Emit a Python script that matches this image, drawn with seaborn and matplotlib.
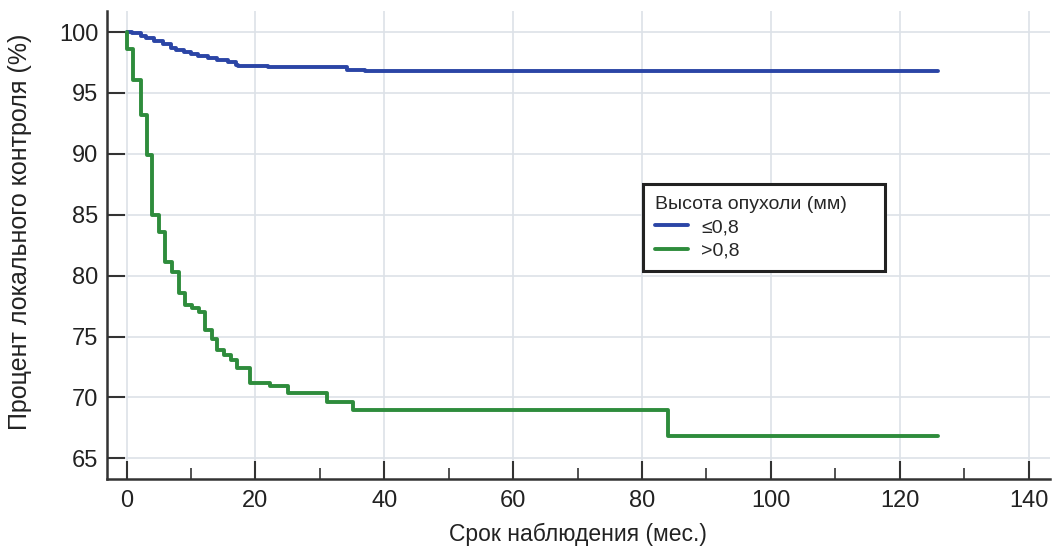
import pandas as pd
import seaborn as sns
import matplotlib.pyplot as plt
from matplotlib.ticker import MultipleLocator

# Kaplan-Meier steps
time_low = [0, 0.9, 2.2, 3.0, 4.3, 5.6, 6.9, 7.6, 8.9, 10.0, 11.0, 12.6, 14.1, 15.7, 17.0,
            17.3, 22.0, 34.2, 37.0, 126]
surv_low = [100, 99.9, 99.7, 99.55, 99.3, 99.0, 98.65, 98.5, 98.4, 98.2, 98.0, 97.9, 97.7,
            97.5, 97.3, 97.2, 97.1, 96.9, 96.8, 96.8]

time_high = [0, 0.1, 1.0, 2.2, 3.1, 4.0, 5.1, 6.0, 7.0, 8.2, 9.0, 10.2, 11.2, 12.1, 13.2,
             14.1, 15.1, 16.2, 17.1, 19.2, 22.2, 25.0, 31.1, 35.2, 84.0, 126]
surv_high = [100, 98.6, 96.1, 93.2, 89.9, 85.0, 83.6, 81.1, 80.3, 78.6, 77.6, 77.3, 77.0,
             75.5, 74.8, 73.9, 73.5, 73.1, 72.4, 71.2, 70.9, 70.4, 69.6, 69.0, 66.8, 66.8]

groups = ['≤0,8', '>0,8']
colors = ['#2b45a6', '#2e8c3c']

df = pd.concat([
    pd.DataFrame({'t': time_low, 's': surv_low, 'g': groups[0]}),
    pd.DataFrame({'t': time_high, 's': surv_high, 'g': groups[1]}),
])

sns.set_style('white')
plt.rcParams['font.family'] = ['Liberation Sans', 'DejaVu Sans']

fig = plt.figure(figsize=(10.53, 5.49), dpi=100)
ax = fig.add_axes([0.1013, 0.1275, 0.8957, 0.853])

sns.lineplot(data=df, x='t', y='s', hue='g', palette=colors, drawstyle='steps-post',
             linewidth=2.8, estimator=None, sort=False, ax=ax)

ax.set_xlim(-3.1, 143.3)
ax.set_ylim(63.3, 101.75)
ax.xaxis.set_major_locator(MultipleLocator(20))
ax.xaxis.set_minor_locator(MultipleLocator(10))
ax.yaxis.set_major_locator(MultipleLocator(5))
ax.grid(True, which='major', color='#dde2e8', linewidth=1.2)
ax.set_axisbelow(True)

for side in ['top', 'right']:
    ax.spines[side].set_visible(False)
for side in ['left', 'bottom']:
    ax.spines[side].set_color('#333333')
    ax.spines[side].set_linewidth(1.8)

ax.tick_params(axis='both', which='major', direction='in', length=13, width=1.5,
               color='#333333', labelsize=17, labelcolor='#222222',
               left=True, bottom=True)
ax.tick_params(axis='x', which='minor', direction='in', length=8, width=1.2,
               color='#333333', bottom=True)
ax.tick_params(axis='x', pad=8)
ax.tick_params(axis='y', pad=6)

ax.set_xlabel('Срок наблюдения (мес.)', fontsize=16.5, color='#222222', labelpad=8)
ax.set_ylabel('Процент локального контроля (%)', fontsize=18, color='#222222')
ax.yaxis.set_label_coords(-0.079, 0.527)

handles, labels = ax.get_legend_handles_labels()
leg = ax.legend(handles, labels, title='Высота опухоли (мм)     ', loc='upper left',
                bbox_to_anchor=(0.5685, 0.63), borderaxespad=0, frameon=True,
                fancybox=False, edgecolor='#222222', framealpha=1,
                prop={'size': 14}, title_fontproperties={'size': 14},
                handlelength=1.7, handletextpad=0.7, labelspacing=0.3,
                borderpad=0.6, alignment='left')
leg.get_frame().set_linewidth(2.2)
for line in leg.get_lines():
    line.set_linewidth(2.8)

fig.savefig('out.png', dpi=100)
